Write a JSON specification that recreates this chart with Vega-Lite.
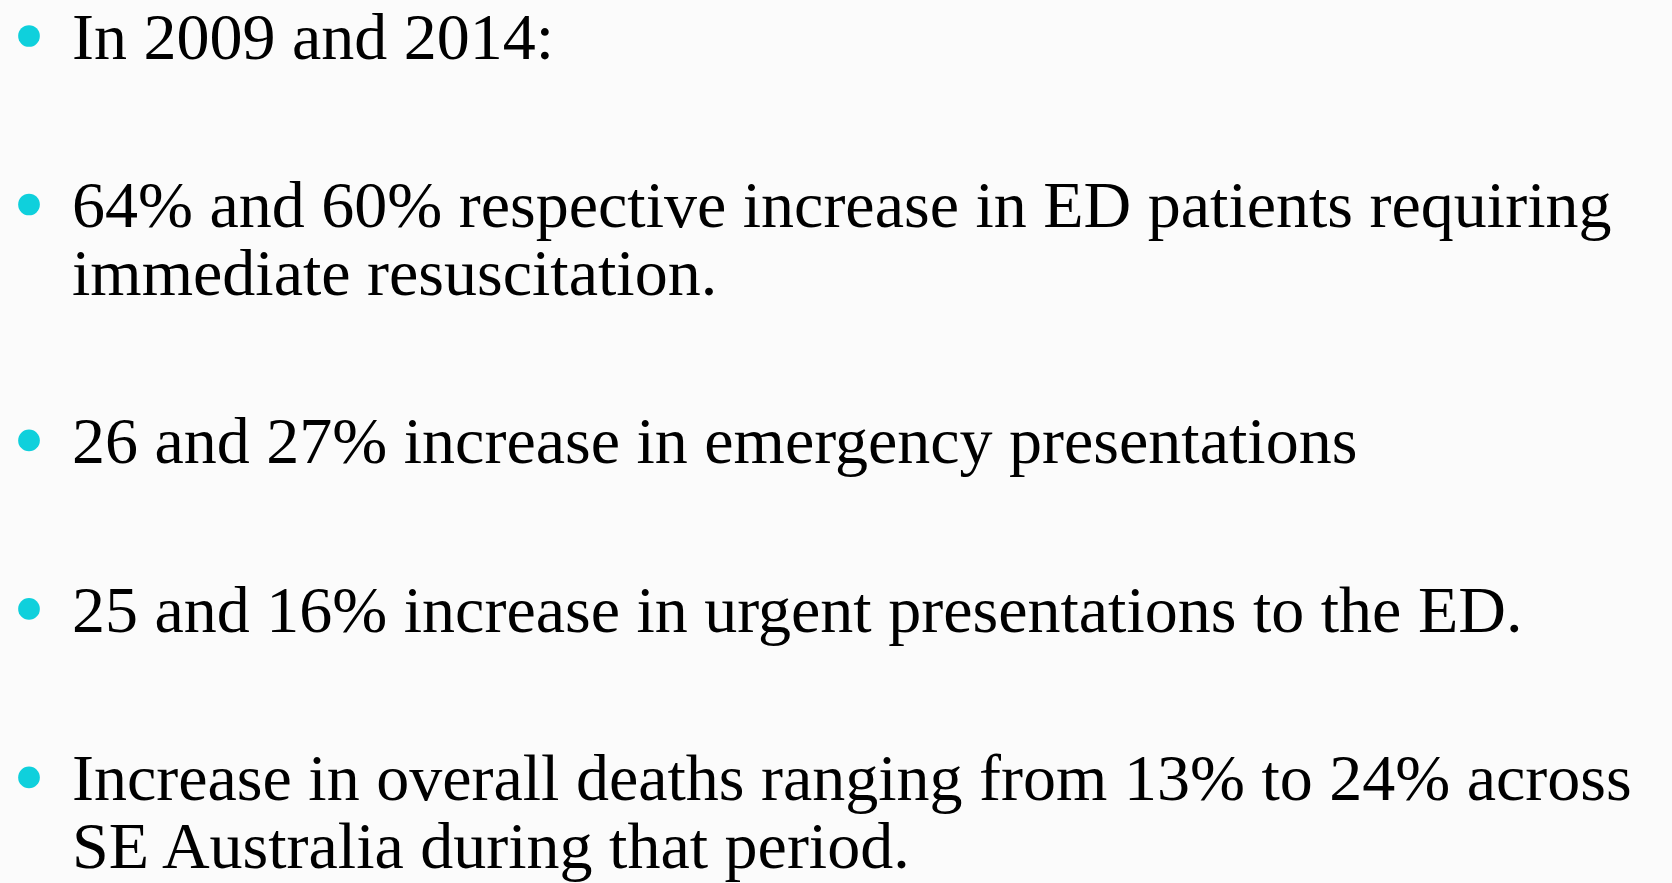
{
  "$schema": "https://vega.github.io/schema/vega-lite/v6.json",
  "autosize": {"type": "fit", "contains": "padding"},
  "width": 1672,
  "height": 883,
  "padding": 0,
  "background": "#fbfbfb",
  "config": {"view": {"stroke": null}},
  "data": {
    "values": [
      {"line": 0, "level": 1, "bullet": true, "text": "In 2009 and 2014:"},
      {"line": 2.5, "level": 1, "bullet": true, "text": "64% and 60% respective increase in ED patients requiring"},
      {"line": 3.5, "level": 1, "bullet": false, "text": "immediate resuscitation."},
      {"line": 6, "level": 1, "bullet": true, "text": "26 and 27% increase in emergency presentations"},
      {"line": 8.5, "level": 1, "bullet": true, "text": "25 and 16% increase in urgent presentations to the ED."},
      {"line": 11, "level": 1, "bullet": true, "text": "Increase in overall deaths ranging from 13% to 24% across"},
      {"line": 12, "level": 1, "bullet": false, "text": "SE Australia during that period."}
    ]
  },
  "encoding": {
    "x": {"field": "level", "type": "quantitative", "scale": {"domain": [0, 23.2222]}, "axis": null},
    "y": {"field": "line", "type": "quantitative", "scale": {"domain": [-0.875, 12.225], "reverse": true, "zero": false, "nice": false}, "axis": null}
  },
  "layer": [
    {
      "transform": [{"filter": "datum.bullet"}],
      "mark": {"type": "point", "shape": "circle", "filled": true, "color": "#0fd0dc", "opacity": 1, "size": 470, "xOffset": -43, "yOffset": -23}
    },
    {
      "mark": {"type": "text", "align": "left", "baseline": "alphabetic", "font": "Liberation Serif", "fontSize": 66, "color": "#000000"},
      "encoding": {"text": {"field": "text"}}
    }
  ]
}
